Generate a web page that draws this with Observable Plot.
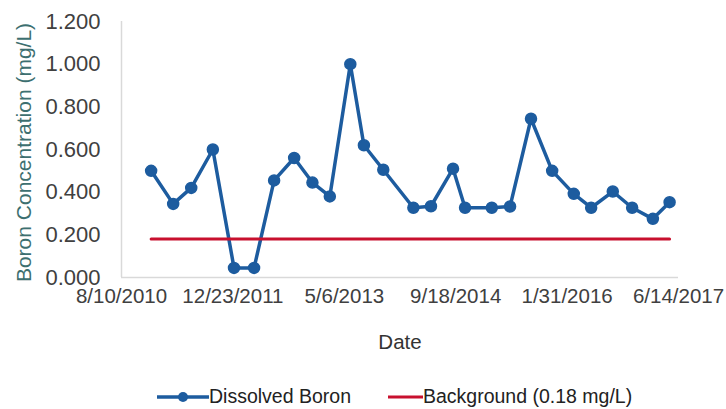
<!DOCTYPE html>
<html><head><meta charset="utf-8">
<script src="https://cdn.jsdelivr.net/npm/d3@7"></script>
<script src="https://cdn.jsdelivr.net/npm/@observablehq/plot@0.6"></script>
<style>
body{margin:0;background:#fff;width:726px;height:409px;overflow:hidden;font-family:"Liberation Sans",Arial,sans-serif;position:relative}
#legend{position:absolute;top:385px;left:157px;display:flex;align-items:center;font-family:"Liberation Sans Narrow","Liberation Sans",sans-serif;font-size:19.5px;color:#222;white-space:nowrap}
#legend svg{display:block}
</style></head><body>
<div id="chart"></div>
<div id="legend"></div>
<script>
const sampleDates = ["2010-12-21","2011-03-30","2011-06-19","2011-09-24","2011-12-28","2012-03-27","2012-06-25","2012-09-23","2012-12-14","2013-03-02","2013-06-02","2013-08-02","2013-10-28","2014-03-12","2014-05-30","2014-09-06","2014-10-30","2015-02-27","2015-05-20","2015-08-22","2015-11-25","2016-03-01","2016-05-18","2016-08-23","2016-11-18","2017-02-19","2017-05-05"];
const boronValues = [0.50,0.345,0.42,0.60,0.045,0.045,0.455,0.56,0.445,0.38,1.00,0.62,0.505,0.327,0.334,0.51,0.327,0.327,0.333,0.744,0.50,0.392,0.327,0.403,0.327,0.275,0.353];
const backgroundValue = 0.18;
const backgroundDates = ["2010-12-21","2017-05-05"];
const xTickDates = ["2010-08-10","2011-12-23","2013-05-06","2014-09-18","2016-01-31","2017-06-14"];
const yTicks = [0,0.2,0.4,0.6,0.8,1.0,1.2];
const seriesNames = ["Dissolved Boron","Background (0.18 mg/L)"];
const yTitle = "Boron Concentration (mg/L)";
const xTitle = "Date";

const parse = d3.utcParse("%Y-%m-%d");
const fmt = d3.utcFormat("%-m/%-d/%Y");
const boron = sampleDates.map((d,i)=>({date:parse(d), value:boronValues[i]}));
const bg = backgroundDates.map(d=>({date:parse(d), value:backgroundValue}));
const xt = xTickDates.map(parse);
const blue = "#1d5c9f", red = "#c8102e";

const chart = Plot.plot({
  width: 726, height: 360,
  marginLeft: 121, marginRight: 48, marginTop: 21, marginBottom: 83,
  style: {fontFamily: "'Liberation Sans', Arial, sans-serif", background: "#fff"},
  x: {type: "utc", domain: [xt[0], xt[xt.length-1]]},
  y: {domain: [0, 1.2]},
  marks: [
    Plot.ruleX([xt[0]], {stroke: "#d9d9d9", strokeWidth: 1.5}),
    Plot.ruleY([0], {stroke: "#d9d9d9", strokeWidth: 1.5}),
    Plot.axisY({ticks: yTicks, tickFormat: d3.format(".3f"), tickSize: 0, tickPadding: 21, fontSize: 22, fill: "#404040", label: null}),
    Plot.axisX({ticks: xt, tickFormat: fmt, tickSize: 0, tickPadding: 11, fontSize: 20.5, fill: "#404040", label: null}),
    Plot.line(boron, {x: "date", y: "value", stroke: blue, strokeWidth: 3.5}),
    Plot.dot(boron, {x: "date", y: "value", r: 5.5, fill: blue, stroke: blue}),
    Plot.line(bg, {x: "date", y: "value", stroke: red, strokeWidth: 3}),
    Plot.text([yTitle], {frameAnchor: "left", rotate: -90, dx: -97, dy: 3, fontSize: 21, fill: "#3d6f70", textAnchor: "middle"}),
    Plot.text([xTitle], {frameAnchor: "bottom", dy: 71, fontSize: 20.5, fill: "#333"})
  ]
});
document.getElementById("chart").appendChild(chart);

const lg = document.getElementById("legend");
lg.innerHTML =
  `<svg width="52" height="14"><line x1="0" y1="7" x2="52" y2="7" stroke="${blue}" stroke-width="3.5"/><circle cx="26" cy="7" r="5" fill="${blue}"/></svg>` +
  `<span style="margin-left:0px">${seriesNames[0]}</span>` +
  `<svg width="35" height="14" style="margin-left:37px"><line x1="0" y1="7" x2="35" y2="7" stroke="${red}" stroke-width="3"/></svg>` +
  `<span>${seriesNames[1]}</span>`;
</script>
</body></html>
